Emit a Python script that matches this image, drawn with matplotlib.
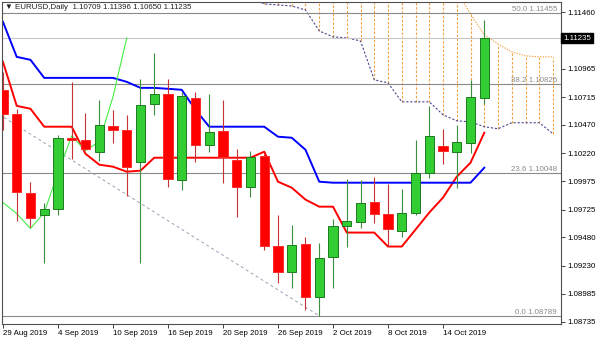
import matplotlib
matplotlib.use("Agg")
import matplotlib.pyplot as plt
import matplotlib.transforms as mtransforms
import numpy as np

plt.rcParams["font.family"] = ["Liberation Sans", "DejaVu Sans"]

# daily candles, 29 Aug 2019 .. 17 Oct 2019
opens = [1.10779, 1.10568, 1.09873, 1.09680, 1.09733, 1.10357, 1.10339, 1.10234, 1.10462, 1.10427,
         1.10146, 1.10656, 1.10744, 1.09988, 1.10709, 1.10295, 1.10418, 1.10164, 1.09926, 1.10199,
         1.09408, 1.09179, 1.09425, 1.08959, 1.09311, 1.09583, 1.09619, 1.09794, 1.09689, 1.09539,
         1.09698, 1.10049, 1.10287, 1.10234, 1.10313, 1.10709]
highs = [1.10937, 1.10612, 1.09970, 1.09786, 1.10383, 1.10849, 1.10577, 1.10691, 1.10603, 1.10559,
         1.10875, 1.11104, 1.10875, 1.10761, 1.10761, 1.10744, 1.10691, 1.10260, 1.10243, 1.10216,
         1.09680, 1.09592, 1.09487, 1.09434, 1.09645, 1.09997, 1.09988, 1.10014, 1.09953, 1.09909,
         1.10339, 1.10638, 1.10436, 1.10471, 1.10867, 1.11396]
lows = [1.10427, 1.09627, 1.09575, 1.09258, 1.09680, 1.10172, 1.10251, 1.10155, 1.10313, 1.09847,
        1.09258, 1.10559, 1.09926, 1.09900, 1.10146, 1.10234, 1.09961, 1.09662, 1.09838, 1.09372,
        1.09082, 1.09038, 1.08836, 1.08789, 1.09038, 1.09399, 1.09566, 1.09610, 1.09408, 1.09487,
        1.09680, 1.10005, 1.10128, 1.09917, 1.10225, 1.10650]
closes = [1.10568, 1.09882, 1.09654, 1.09733, 1.10357, 1.10339, 1.10260, 1.10471, 1.10427, 1.10102,
          1.10647, 1.10744, 1.09997, 1.10726, 1.10295, 1.10410, 1.10190, 1.09926, 1.10190, 1.09408,
          1.09179, 1.09416, 1.08959, 1.09302, 1.09583, 1.09627, 1.09786, 1.09689, 1.09557, 1.09698,
          1.10049, 1.10374, 1.10243, 1.10322, 1.10717, 1.11235]

# ichimoku lines
tenkan = [1.11025, 1.10638, 1.10612, 1.10454, 1.10454, 1.10454, 1.10216, 1.10120, 1.10102, 1.10058,
          1.10067, 1.10181, 1.10181, 1.10181, 1.10181, 1.10181, 1.10181, 1.10181, 1.10181, 1.10234,
          1.09970, 1.09917, 1.09812, 1.09750, 1.09750, 1.09522, 1.09522, 1.09522, 1.09399, 1.09399,
          1.09548, 1.09698, 1.09830, 1.10014, 1.10137, 1.10401]
kijun = [1.11377, 1.11069, 1.11043, 1.10884, 1.10884, 1.10884, 1.10884, 1.10884, 1.10884, 1.10849,
         1.10796, 1.10796, 1.10788, 1.10779, 1.10603, 1.10454, 1.10454, 1.10454, 1.10454, 1.10454,
         1.10366, 1.10357, 1.10251, 1.09970, 1.09961, 1.09961, 1.09961, 1.09961, 1.09961, 1.09961,
         1.09961, 1.09961, 1.09961, 1.09961, 1.09961, 1.10093]
# cloud, bars 18..40 (runs past the last candle)
cloud_start = 18
span_a = [1.11596, 1.11535, 1.11526, 1.11517, 1.11482, 1.11297, 1.11245, 1.11236, 1.11209, 1.10867,
          1.10840, 1.10673, 1.10673, 1.10673, 1.10559, 1.10506, 1.10497, 1.10454, 1.10436, 1.10489,
          1.10489, 1.10489, 1.10392]
span_b = [1.11800, 1.11800, 1.11800, 1.11800, 1.11800, 1.11800, 1.11800, 1.11800, 1.11800, 1.11800,
          1.11800, 1.11800, 1.11800, 1.11800, 1.11800, 1.11640, 1.11447, 1.11262, 1.11183, 1.11113,
          1.11078, 1.11069, 1.11069]
chikou_shift = 26

# fibonacci retracement
fib_pct = ["0.0", "23.6", "38.2", "50.0"]
fib_levels = [1.08789, 1.10048, 1.10826, 1.11455]
fib_anchor_x = [-47, 23]
fib_anchor_y = [1.14121, 1.08789]

date_ticks = [0, 4, 8, 12, 16, 20, 24, 28, 32]
date_labels = ["29 Aug 2019", "4 Sep 2019", "10 Sep 2019", "16 Sep 2019", "20 Sep 2019",
               "26 Sep 2019", "2 Oct 2019", "8 Oct 2019", "14 Oct 2019"]
price_ticks = [1.11460, 1.10965, 1.10715, 1.10470, 1.10220, 1.09975, 1.09725, 1.09480,
               1.09230, 1.08985, 1.08735]
last_price = 1.11235
title = "\u25bc EURUSD,Daily  1.10709 1.11396 1.10650 1.11235"

fs = 5.7

fig = plt.figure(figsize=(6, 3.43), dpi=100)
ax = fig.add_axes([2 / 600, 1 - 324 / 343, 559 / 600, 322 / 343])
ax.set_xlim(-0.07, 40.58)
ax.set_ylim(1.08717, 1.11552)

# cloud hatch + borders
cx = np.arange(cloud_start, cloud_start + len(span_a))
ax.vlines(cx, span_a, span_b, colors="#f5a043", linestyles=(0, (2.2, 1.6)), lw=0.8, zorder=1)
ax.plot(cx, span_a, color="#4a4a96", ls=(0, (2, 1.6)), lw=0.8, zorder=1)
ax.plot(cx, span_b, color="#f5a043", ls=(0, (1.2, 1.2)), lw=0.8, zorder=1)

# fib lines
for pct, lvl in zip(fib_pct, fib_levels):
    ax.axhline(lvl, color="#8a8a8a", lw=0.8, zorder=1)
    ax.text(0.993, lvl, f"{pct} {lvl:.5f}", transform=mtransforms.blended_transform_factory(ax.transAxes, ax.transData),
            ha="right", va="bottom", fontsize=fs, color="#8a8a8a")
ax.plot(fib_anchor_x, fib_anchor_y, color="#9aa0b4", ls=(0, (3, 3)), lw=0.7, zorder=1)
ax.axhline(last_price, color="#c8c8c8", lw=0.8, zorder=1)

# indicator lines
idx = np.arange(len(closes))
ax.plot(idx, tenkan, color="#ff0000", lw=1.4, zorder=2)
ax.plot(idx, kijun, color="#0000ff", lw=1.4, zorder=2)
ax.plot(idx[:len(closes) - chikou_shift], closes[chikou_shift:], color="#44ee44", lw=0.8, zorder=2)

# candles
o = np.array(opens); c = np.array(closes)
up = c >= o
wick_col = np.where(up, "#3c8f3c", "#c83232")
ax.vlines(idx, lows, highs, colors=wick_col, lw=0.8, zorder=3)
body_lo = np.minimum(o, c)
body_h = np.maximum(np.abs(c - o), 0.00012)
ax.bar(idx[up], body_h[up], bottom=body_lo[up], width=0.66, color="#32cd32",
       edgecolor="#1e7a1e", lw=0.7, zorder=4)
ax.bar(idx[~up], body_h[~up], bottom=body_lo[~up], width=0.66, color="#ff0000",
       edgecolor="#ff2a2a", lw=0.7, zorder=4)

# axes styling
for s in ax.spines.values():
    s.set_color("#505050")
    s.set_linewidth(0.8)
ax.yaxis.tick_right()
ax.set_yticks(price_ticks)
ax.set_yticklabels([f"{p:.5f}" for p in price_ticks])
ax.set_xticks(date_ticks)
ax.set_xticklabels(date_labels)
for lab in ax.get_xticklabels():
    lab.set_ha("left")
ax.tick_params(axis="both", direction="out", length=3, width=0.7, color="#404040",
               labelsize=fs, pad=1.5)

ax.text(1.004, last_price, f"{last_price:.5f}", transform=mtransforms.blended_transform_factory(ax.transAxes, ax.transData),
        ha="left", va="center", fontsize=fs, color="white", zorder=10, clip_on=False,
        bbox=dict(boxstyle="square,pad=0.25", fc="black", ec="black"))
ax.text(0.006, 0.993, title, transform=ax.transAxes, ha="left", va="top", fontsize=fs, color="#202020")

plt.savefig("out.png", dpi=100)
